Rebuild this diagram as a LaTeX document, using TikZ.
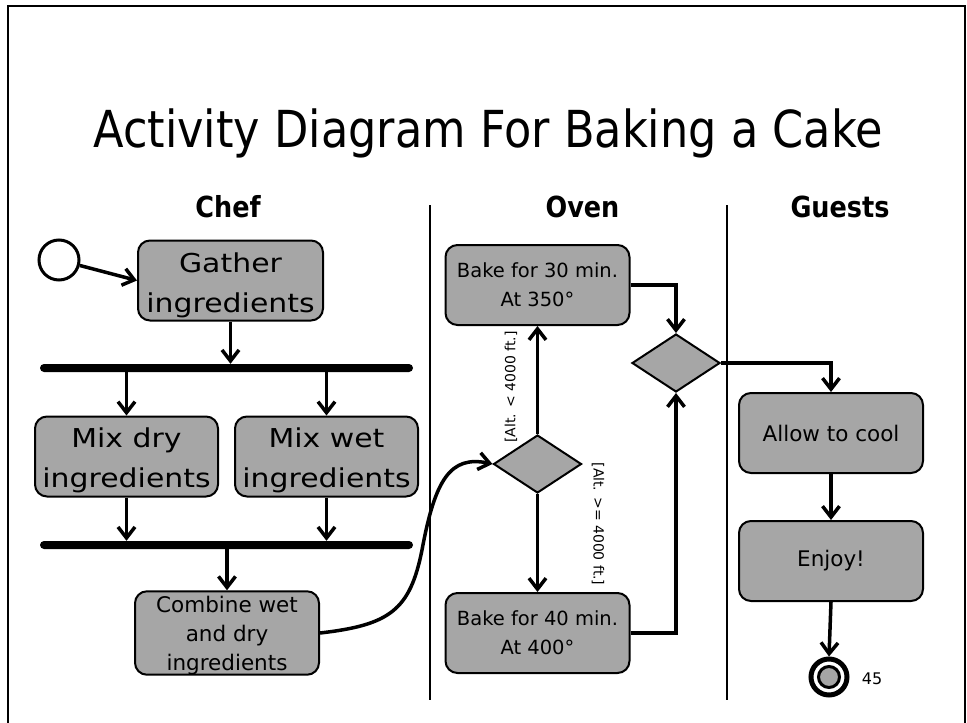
\documentclass[tikz,border=0pt]{standalone}
\usepackage{fontspec}
\setmainfont{DejaVu Sans}
\newfontfamily\titlefont{DejaVu Sans}[FakeStretch=0.875]
\newfontfamily\widefont{DejaVu Sans}[FakeStretch=1.15]
\newfontfamily\lanefont{DejaVu Sans}[FakeStretch=0.88]
\usetikzlibrary{arrows.meta,shapes.geometric}
\definecolor{actfill}{RGB}{166,166,166}
% invisible strut that lowers the first line of a box label
\newcommand{\toppad}[1]{\rule{0pt}{#1pt}}

\begin{document}
\begin{tikzpicture}[x=1pt,y=-1pt,
  action/.style={draw, line width=2, fill=actfill, rounded corners=12,
    minimum width=184, minimum height=80, inner sep=0, align=center},
  bigtext/.style={font=\widefont\fontsize{26}{40}\selectfont},
  smalltext/.style={font=\fontsize{21.5}{29}\selectfont},
  baketext/.style={font=\fontsize{19.5}{29}\selectfont},
  decision/.style={draw, diamond, line width=2, fill=actfill,
    minimum width=88, minimum height=58, inner sep=0},
  syncbar/.style={fill=black, rounded corners=4, minimum width=373,
    minimum height=8, inner sep=0},
  flow/.style={line width=3.5, -{Straight Barb[length=11pt,width=17pt]}},
  lane/.style={line width=2},
  guard/.style={font=\fontsize{14}{16}\selectfont, inner sep=0},
  lanehead/.style={font=\lanefont\bfseries\fontsize{29}{32}\selectfont, anchor=base},
]
\useasboundingbox (0,0) rectangle (967,723);

% slide frame, open at the bottom
\draw[line width=2.5] (8,723) -- (8,6) -- (965,6) -- (965,723);

% title
\node[font=\titlefont\fontsize{51}{56}\selectfont, anchor=base] (title)
  at (488,147) {Activity Diagram For Baking a Cake};

% swimlanes
\node[lanehead] (chef) at (228,217) {Chef};
\node[lanehead] (oven) at (582.5,217) {Oven};
\node[lanehead] (guests) at (840,217) {Guests};
\draw[lane] (430,205) -- (430,700);
\draw[lane] (727,205) -- (727,700);

% Chef lane
\node[circle, draw, line width=3, minimum size=40, inner sep=0] (start) at (59,260) {};
\node[action, bigtext, minimum width=185] (gather) at (230.5,280.5) {\toppad{29}Gather\\ingredients};
\node[syncbar] (fork) at (226.5,368) {};
\node[action, bigtext, minimum width=183] (mixdry) at (126.5,456.5) {\toppad{27}Mix dry\\ingredients};
\node[action, bigtext, minimum width=183] (mixwet) at (326.5,456.5) {\toppad{27}Mix wet\\ingredients};
\node[syncbar] (join) at (226.5,545) {};
\node[action, smalltext] (combine) at (227,633) {\toppad{21}Combine wet\\and dry\\ingredients};

% Oven lane
\node[action, baketext] (bake30) at (537.5,285) {Bake for 30 min.\\At 350°};
\node[decision] (alt) at (537.5,464) {};
\node[action, baketext] (bake40) at (537.5,633) {Bake for 40 min.\\At 400°};
\node[decision] (merge) at (676,363) {};
\node[guard, rotate=90] (lowalt) at (511,387) {[Alt. < 4000 ft.]};
\node[guard, rotate=-90] (highalt) at (598,524) {[Alt. >= 4000 ft.]};

% Guests lane
\node[action, smalltext] (cool) at (831,433) {Allow to cool};
\node[action, smalltext] (enjoy) at (831,561) {Enjoy!};
\node[circle, draw, line width=5, minimum size=36, inner sep=0] (final) at (829,677) {};
\node[circle, draw, line width=3, fill=actfill, minimum size=21, inner sep=0] (finaldot) at (final.center) {};
\node[font=\fontsize{16}{18}\selectfont] (page) at (872,679) {45};

% control flow
\draw[flow] (start) -- (gather.west);
\draw[flow] (gather.south) -- (gather.south |- fork.north);
\draw[flow] (mixdry.north |- fork.south) -- (mixdry.north);
\draw[flow] (mixwet.north |- fork.south) -- (mixwet.north);
\draw[flow] (mixdry.south) -- (mixdry.south |- join.north);
\draw[flow] (mixwet.south) -- (mixwet.south |- join.north);
\draw[flow] (join.south -| combine.north) -- (combine.north);
\draw[flow] (combine.east) .. controls (390,625) and (410,610) .. (422,550)
  .. controls (435,480) and (450,455) .. (alt.west);
\draw[flow] (alt.north) -- (bake30.south);
\draw[flow] (alt.south) -- (bake40.north);
\draw[flow] (bake30.east) -| (merge.north);
\draw[flow] (bake40.east) -| (merge.south);
\draw[flow] (merge.east) -| (cool.north);
\draw[flow] (cool.south) -- (enjoy.north);
\draw[flow] (enjoy.south) -- (final.north);
\end{tikzpicture}
\end{document}
